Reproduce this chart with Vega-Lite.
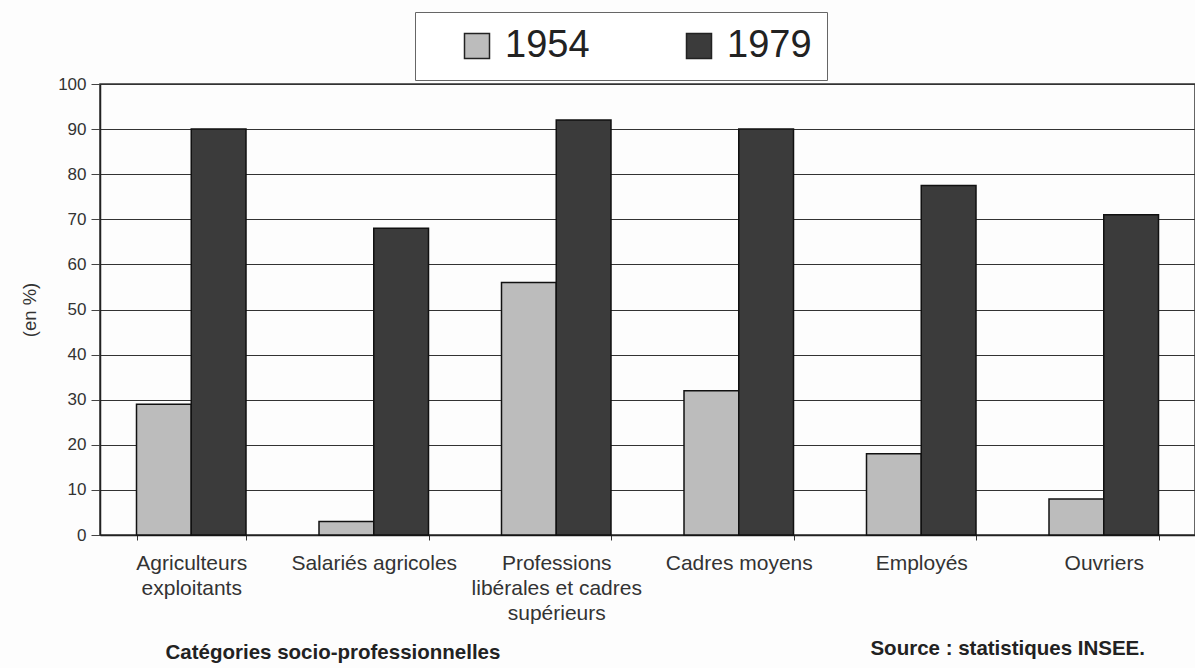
{
  "$schema": "https://vega.github.io/schema/vega-lite/v6.json",
  "width": 1095,
  "height": 451,
  "autosize": {"type": "none"},
  "padding": {"left": 100, "top": 84, "right": 0, "bottom": 133},
  "background": "#fdfdfd",
  "title": {
    "text": "Source : statistiques INSEE.",
    "orient": "bottom",
    "anchor": "end",
    "font": "Liberation Sans",
    "fontSize": 20.5,
    "fontWeight": "bold",
    "color": "#222",
    "offset": -24,
    "dx": -50
  },
  "data": {
    "values": [
      {"categorie": "Agriculteurs exploitants", "annee": "1954", "valeur": 29},
      {"categorie": "Agriculteurs exploitants", "annee": "1979", "valeur": 90},
      {"categorie": "Salariés agricoles", "annee": "1954", "valeur": 3},
      {"categorie": "Salariés agricoles", "annee": "1979", "valeur": 68},
      {"categorie": "Professions libérales et cadres supérieurs", "annee": "1954", "valeur": 56},
      {"categorie": "Professions libérales et cadres supérieurs", "annee": "1979", "valeur": 92},
      {"categorie": "Cadres moyens", "annee": "1954", "valeur": 32},
      {"categorie": "Cadres moyens", "annee": "1979", "valeur": 90},
      {"categorie": "Employés", "annee": "1954", "valeur": 18},
      {"categorie": "Employés", "annee": "1979", "valeur": 77.5},
      {"categorie": "Ouvriers", "annee": "1954", "valeur": 8},
      {"categorie": "Ouvriers", "annee": "1979", "valeur": 71}
    ]
  },
  "mark": {"type": "bar", "stroke": "#111", "strokeWidth": 1.5},
  "encoding": {
    "x": {
      "field": "categorie",
      "type": "nominal",
      "sort": null,
      "scale": {"paddingInner": 0.4, "paddingOuter": 0.2},
      "axis": {
        "title": "Catégories socio-professionnelles",
        "titleAnchor": "start",
        "titleFont": "Liberation Sans",
        "titleFontSize": 20.5,
        "titleFontWeight": "bold",
        "titleColor": "#222",
        "titlePadding": 19,
        "titleX": 65,
        "labelAngle": 0,
        "labelFont": "Liberation Sans",
        "labelFontSize": 21,
        "labelColor": "#333",
        "labelLineHeight": 25,
        "labelPadding": 12,
        "labelLimit": 300,
        "labelExpr": "datum.value == 'Agriculteurs exploitants' ? ['Agriculteurs', 'exploitants'] : datum.value == 'Professions libérales et cadres supérieurs' ? ['Professions', 'libérales et cadres', 'supérieurs'] : datum.value",
        "tickBand": "extent",
        "tickSize": 5,
        "tickColor": "#333",
        "domainColor": "#222",
        "domainWidth": 1.5
      }
    },
    "xOffset": {"field": "annee", "type": "nominal", "scale": {"paddingInner": 0, "paddingOuter": 0}},
    "y": {
      "field": "valeur",
      "type": "quantitative",
      "scale": {"domain": [0, 100]},
      "axis": {
        "title": "(en %)",
        "titleFont": "Liberation Sans",
        "titleFontSize": 18.5,
        "titleFontWeight": "normal",
        "titleColor": "#333",
        "titlePadding": 18,
        "values": [0, 10, 20, 30, 40, 50, 60, 70, 80, 90, 100],
        "labelFont": "Liberation Sans",
        "labelFontSize": 17,
        "labelColor": "#333",
        "labelPadding": 5,
        "tickSize": 9,
        "tickColor": "#444",
        "grid": true,
        "gridColor": "#333",
        "gridWidth": 1.2,
        "domainColor": "#222",
        "domainWidth": 1.5
      }
    },
    "color": {
      "field": "annee",
      "type": "nominal",
      "scale": {"domain": ["1954", "1979"], "range": ["#bcbcbc", "#3b3b3b"]},
      "legend": {
        "title": null,
        "orient": "none",
        "direction": "horizontal",
        "legendX": 315,
        "legendY": -72,
        "symbolType": "square",
        "symbolSize": 625,
        "symbolOffset": 28,
        "symbolStrokeColor": "#222",
        "symbolStrokeWidth": 1.5,
        "labelFont": "Liberation Sans",
        "labelFontSize": 38,
        "labelColor": "#222",
        "labelOffset": 9,
        "columnPadding": 62,
        "padding": 15,
        "strokeColor": "#666",
        "fillColor": "#ffffff"
      }
    }
  },
  "config": {
    "view": {"stroke": "#333", "strokeWidth": 1.5}
  }
}
